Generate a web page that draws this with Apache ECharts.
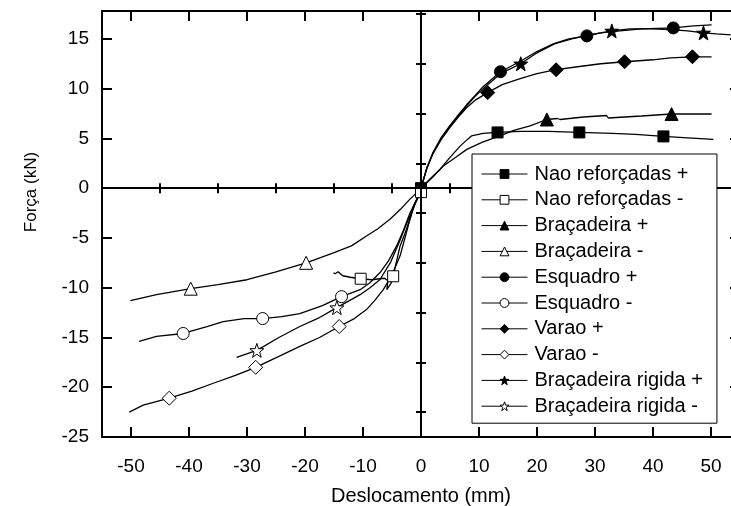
<!DOCTYPE html>
<html>
<head>
<meta charset="utf-8">
<script src="https://cdn.jsdelivr.net/npm/echarts@6/dist/echarts.min.js"></script>
<style>
  html, body { margin: 0; padding: 0; background: #fff; }
  #chart { width: 731px; height: 506px; }
</style>
</head>
<body>
<div id="chart"></div>
<script>
// ---- Tick values ----
const xMajorTicks = [-50, -40, -30, -20, -10, 0, 10, 20, 30, 40, 50];
const xMinorTicks = [-55, -45, -35, -25, -15, -5, 5, 15, 25, 35, 45, 55];
const yMajorTicks = [-25, -20, -15, -10, -5, 0, 5, 10, 15];
const yMinorTicks = [-22.5, -17.5, -12.5, -7.5, -2.5, 2.5, 7.5, 12.5, 17.5];

// ---- Series names ----
const seriesNames = [
  'Nao reforçadas +', 'Nao reforçadas -',
  'Braçadeira +', 'Braçadeira -',
  'Esquadro +', 'Esquadro -',
  'Varao +', 'Varao -',
  'Braçadeira rigida +', 'Braçadeira rigida -'
];

// ---- Curves [deslocamento (mm), força (kN)] ----
const naoPlus = [[0,0],[1.5,0.9],[3.3,1.9],[5,3.1],[6.7,4.2],[8,4.9],[8.7,5.25],[10.7,5.5],[13.2,5.6],[17.1,5.7],[22,5.7],[27.3,5.6],[33,5.5],[37,5.4],[41.8,5.2],[46,5.05],[50.4,4.9]];
const naoPlusMarks = [0, 8, 11, 14];

const naoMinus = [[0,-0.4],[-1,-1.5],[-1.9,-3.1],[-2.8,-4.6],[-3.6,-5.8],[-4.2,-7.3],[-4.8,-8.85],[-5.2,-9.6],[-5.9,-10.2],[-5.7,-9.3],[-6.3,-9.05],[-7.1,-9.1],[-8.5,-9.2],[-10.4,-9.1],[-12.2,-8.95],[-13.5,-8.8],[-14.3,-8.4],[-14.8,-8.6],[-15.1,-8.5]];
const naoMinusMarks = [0, 6, 13];

const bracPlus = [[0,0],[2,1.1],[3.8,2.2],[6,3.1],[7.9,3.9],[10.5,4.6],[13.6,5.25],[16,5.8],[18.8,6.25],[21.7,6.9],[23.5,7.0],[24,6.9],[28,7.15],[32,7.3],[32.3,7.05],[38,7.25],[43.2,7.45],[50.1,7.45]];
const bracPlusMarks = [9, 16];

const bracMinus = [[0,0],[-0.8,-0.5],[-1.9,-1.1],[-3.5,-2.1],[-5.3,-3.1],[-7.5,-4.1],[-9.4,-4.8],[-12,-5.8],[-15.1,-6.5],[-19.8,-7.5],[-25,-8.4],[-30,-9.2],[-35,-9.7],[-39.7,-10.1],[-45.6,-10.7],[-50.1,-11.3]];
const bracMinusMarks = [9, 13];

const esqPlus = [[0,0],[1,2],[2.1,3.6],[3.5,5.1],[5,6.3],[6.5,7.4],[7.9,8.4],[9.3,9.3],[10.7,10.2],[13.7,11.7],[17,12.7],[19.9,13.7],[22.8,14.5],[25.5,15.0],[28.6,15.3],[31,15.6],[34.3,15.8],[38,16.0],[43.5,16.1],[47,16.3],[50.1,16.4]];
const esqPlusMarks = [9, 14, 18];

const esqMinus = [[0,0],[-0.8,-1.2],[-1.9,-2.5],[-3,-4.2],[-4.2,-5.8],[-5.6,-7.3],[-7.1,-8.5],[-8.8,-9.5],[-10.5,-10.2],[-13.7,-10.9],[-17,-11.8],[-20.9,-12.6],[-24,-12.9],[-27.3,-13.1],[-30.5,-13.1],[-34.1,-13.4],[-36.9,-13.9],[-41,-14.6],[-45.6,-14.9],[-48.6,-15.4]];
const esqMinusMarks = [9, 13, 17];

const varPlus = [[0,0],[1,2],[2.1,3.5],[3.5,4.9],[5,6.1],[6.5,7.2],[7.9,8.1],[9.5,8.9],[11.5,9.6],[14,10.4],[17.1,11.0],[20,11.5],[23.3,11.9],[27,12.2],[31,12.5],[35.1,12.7],[40,12.9],[43,13.1],[46.8,13.2],[50.1,13.2]];
const varPlusMarks = [8, 12, 15, 18];

const varMinus = [[0,0],[-0.6,-1],[-1.3,-1.8],[-2.4,-4.2],[-3.6,-6.8],[-5,-8.7],[-6.5,-10.2],[-8,-11.3],[-9.4,-12.2],[-11.5,-13.1],[-14.1,-13.9],[-17.5,-15.0],[-20.9,-15.9],[-24.5,-16.9],[-28.5,-18.0],[-32,-18.8],[-35.8,-19.6],[-39.5,-20.4],[-43.4,-21.1],[-47.9,-21.8],[-50.3,-22.5]];
const varMinusMarks = [10, 14, 18];

const rigPlus = [[0,0],[1,2],[2.1,3.6],[3.5,5.0],[5,6.2],[6.5,7.3],[7.9,8.3],[9.3,9.2],[10.7,10.0],[13.7,11.5],[17.2,12.5],[20,13.6],[23,14.5],[26,15.0],[29,15.4],[32.9,15.8],[36,16.0],[40,16.0],[43.5,15.9],[46,15.8],[48.7,15.6],[51,15.5],[53.4,15.4]];
const rigPlusMarks = [10, 15, 20];

const rigMinus = [[0,0],[-0.8,-1.3],[-1.9,-2.8],[-2.8,-4.0],[-3.6,-5.2],[-5.2,-7.4],[-7.1,-9.2],[-8.8,-10.0],[-10.5,-10.7],[-14.5,-12.0],[-17.5,-13.0],[-20.9,-13.9],[-24.5,-15.0],[-28.3,-16.3],[-31.8,-17.0]];
const rigMinusMarks = [9, 13];

// ---- Styling ----
const FONT = '"Liberation Sans", Arial, Helvetica, sans-serif';
const starPath = 'path://M0,-10 L2.35,-3.24 L9.51,-3.09 L3.8,1.24 L5.88,8.09 L0,4 L-5.88,8.09 L-3.8,1.24 L-9.51,-3.09 L-2.35,-3.24 Z';

const curves = [naoPlus, naoMinus, bracPlus, bracMinus, esqPlus, esqMinus, varPlus, varMinus, rigPlus, rigMinus];
const marks = [naoPlusMarks, naoMinusMarks, bracPlusMarks, bracMinusMarks, esqPlusMarks, esqMinusMarks, varPlusMarks, varMinusMarks, rigPlusMarks, rigMinusMarks];
const symbols = ['rect', 'rect', 'triangle', 'triangle', 'circle', 'circle', 'diamond', 'diamond', starPath, starPath];
const symbolSizes = [11, 11, 13, 13, 12, 12, 14, 14, 14, 14];
const filled = [true, false, true, false, true, false, true, false, true, false];

function buildData(pts, mk) {
  return pts.map((p, i) => mk.indexOf(i) >= 0 ? { value: p } : { value: p, symbol: 'none' });
}

const series = seriesNames.map((name, i) => ({
  name: name,
  type: 'line',
  xAxisIndex: 0,
  yAxisIndex: 0,
  data: buildData(curves[i], marks[i]),
  symbol: symbols[i],
  symbolSize: symbolSizes[i],
  showSymbol: true,
  showAllSymbol: true,
  smooth: false,
  lineStyle: { color: '#000', width: 1.3 },
  itemStyle: {
    color: filled[i] ? '#000' : '#fff',
    borderColor: '#000',
    borderWidth: 1
  },
  emphasis: { disabled: true },
  z: 3
}));

series[0].markLine = {
  silent: true,
  symbol: ['none', 'none'],
  label: { show: false },
  lineStyle: { color: '#000', width: 2, type: 'solid' },
  data: [{ xAxis: 0 }, { yAxis: 0 }],
  animation: false
};

function xAx(pos, ticks, len, opts) {
  return Object.assign({
    type: 'value', position: pos, min: -55, max: 55,
    axisLine: { show: false },
    axisTick: { show: true, inside: true, length: len, customValues: ticks, lineStyle: { color: '#000', width: 2 } },
    axisLabel: { show: false },
    splitLine: { show: false }
  }, opts || {});
}
function yAx(pos, ticks, len, opts) {
  return Object.assign({
    type: 'value', position: pos, min: -25, max: 17.8,
    axisLine: { show: false },
    axisTick: { show: true, inside: true, length: len, customValues: ticks, lineStyle: { color: '#000', width: 2 } },
    axisLabel: { show: false },
    splitLine: { show: false }
  }, opts || {});
}

const option = {
  animation: false,
  backgroundColor: '#fff',
  textStyle: { fontFamily: FONT, color: '#000' },
  grid: { left: 102, top: 11, right: -9, bottom: 69, containLabel: false, outerBoundsMode: 'none' },
  legend: {
    data: seriesNames,
    orient: 'vertical',
    left: 472,
    top: 154,
    padding: [10, 14, 7, 9],
    itemWidth: 46,
    itemHeight: 11,
    itemGap: 5.8,
    backgroundColor: '#fff',
    borderColor: '#000',
    borderWidth: 1,
    borderRadius: 0,
    selectedMode: false,
    lineStyle: { color: '#000', width: 1 },
    itemStyle: { borderColor: '#000', borderWidth: 1 },
    textStyle: { fontFamily: FONT, fontSize: 20, color: '#000', lineHeight: 20, padding: [0, 0, 0, 2] },
    z: 10
  },
  xAxis: [
    xAx('bottom', xMajorTicks, 10, {
      axisLine: { show: true, onZero: false, lineStyle: { color: '#000', width: 2 } },
      axisLabel: { show: true, customValues: xMajorTicks, fontSize: 19, fontFamily: FONT, color: '#000', margin: 20 },
      name: 'Deslocamento (mm)',
      nameLocation: 'middle',
      nameGap: 49,
      nameTextStyle: { fontSize: 20, fontFamily: FONT, color: '#000' }
    }),
    xAx('bottom', xMinorTicks, 5),
    xAx('top', xMajorTicks, 10, { axisLine: { show: true, onZero: false, lineStyle: { color: '#000', width: 2 } } }),
    xAx('top', xMinorTicks, 5)
  ],
  yAxis: [
    yAx('left', yMajorTicks, 10, {
      axisLine: { show: true, onZero: false, lineStyle: { color: '#000', width: 2 } },
      axisLabel: { show: true, customValues: yMajorTicks, fontSize: 19, fontFamily: FONT, color: '#000', margin: 13 },
      name: 'Força (kN)',
      nameLocation: 'middle',
      nameGap: 62,
      nameTextStyle: { fontSize: 17, fontFamily: FONT, color: '#000', padding: [0, 0, 0, 64] }
    }),
    yAx('left', yMinorTicks, 5),
    yAx('right', yMajorTicks, 10, { axisLine: { show: true, onZero: false, lineStyle: { color: '#000', width: 2 } } }),
    yAx('right', yMinorTicks, 5)
  ],
  series: series
};

const chart = echarts.init(document.getElementById('chart'), null, { renderer: 'canvas' });
chart.setOption(option);
</script>
</body>
</html>
